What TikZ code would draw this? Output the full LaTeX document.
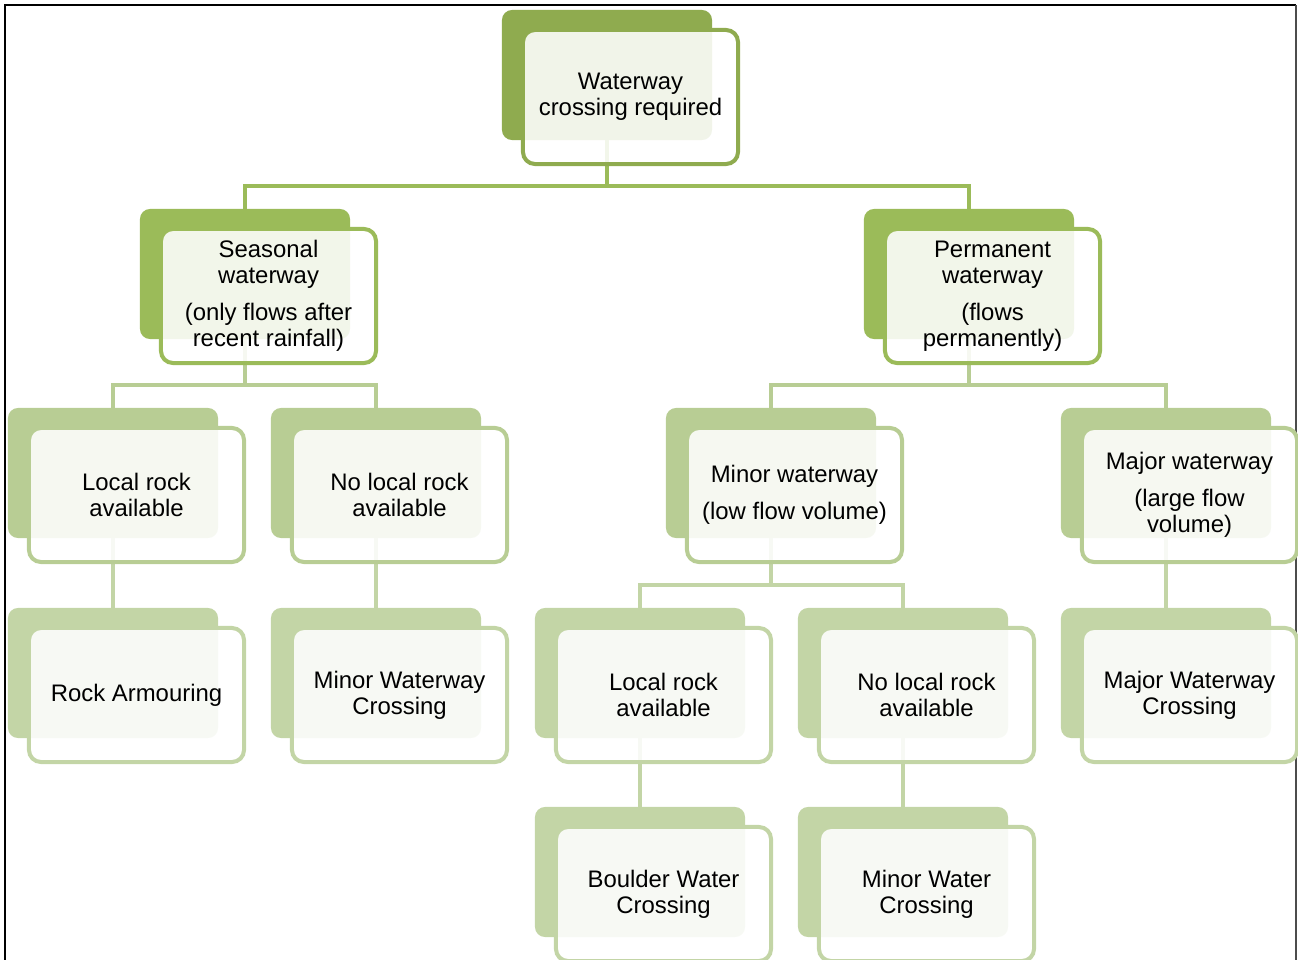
\documentclass[tikz,border=0pt]{standalone}
\usepackage{fontspec}
\setmainfont{Liberation Sans}
\definecolor{lvA}{HTML}{8FAB4F}
\definecolor{lvB}{HTML}{9BBB59}
\definecolor{lvC}{HTML}{B8CD94}
\definecolor{lvD}{HTML}{C3D5A6}
\begin{document}
\begin{tikzpicture}[x=0.025cm,y=-0.025cm,
	back/.style={rectangle,rounded corners=0.25cm,fill=#1,minimum width=5.25cm,minimum height=3.25cm,inner sep=0pt},
	front/.style={rectangle,rounded corners=0.3cm,draw=#1,line width=0.1cm,fill=white,fill opacity=0.88,text opacity=1,
		minimum width=5.375cm,minimum height=3.35cm,inner sep=0pt,xshift=0.5875cm,yshift=-0.55cm,
		align=center,font=\fontsize{17}{18.5}\selectfont},
	link/.style={draw=#1,line width=0.1cm}]
	\useasboundingbox (0,0) rectangle (1298,960);
	\clip (0,0) rectangle (1298,960);
	\draw[line width=0.05cm] (5,965)--(5,5)--(1296,5);
	\draw[line width=0.03cm,black!70] (1296,5)--(1296,965);
	% back boxes
	\node[back=lvA] (top) at (607,75) {};
	\node[back=lvB] (seas) at (245,274) {};
	\node[back=lvB] (perm) at (969,274) {};
	\node[back=lvC] (lrA) at (113,473) {};
	\node[back=lvC] (nlrA) at (376,473) {};
	\node[back=lvC] (minor) at (771,473) {};
	\node[back=lvC] (major) at (1166,473) {};
	\node[back=lvD] (armour) at (113,673) {};
	\node[back=lvD] (mwc) at (376,673) {};
	\node[back=lvD] (lrB) at (640,673) {};
	\node[back=lvD] (nlrB) at (903,673) {};
	\node[back=lvD] (mjc) at (1166,673) {};
	\node[back=lvD] (boulder) at (640,872) {};
	\node[back=lvD] (mwx) at (903,872) {};
	% connectors
	\draw[link=lvB] (top.south)--++(0,46) -| (seas.north);
	\draw[link=lvB] (top.south)--++(0,46) -| (perm.north);
	\draw[link=lvC] (seas.south)--++(0,46) -| (lrA.north);
	\draw[link=lvC] (seas.south)--++(0,46) -| (nlrA.north);
	\draw[link=lvC] (perm.south)--++(0,46) -| (minor.north);
	\draw[link=lvC] (perm.south)--++(0,46) -| (major.north);
	\draw[link=lvD] (lrA.south)--(armour.north);
	\draw[link=lvD] (nlrA.south)--(mwc.north);
	\draw[link=lvD] (minor.south)--++(0,47) -| (lrB.north);
	\draw[link=lvD] (minor.south)--++(0,47) -| (nlrB.north);
	\draw[link=lvD] (major.south)--(mjc.north);
	\draw[link=lvD] (lrB.south)--(boulder.north);
	\draw[link=lvD] (nlrB.south)--(mwx.north);
	% front boxes
	\node[front=lvA] (topT) at (607,75) {Waterway\\crossing required};
	\node[front=lvB] (seasT) at (245,274) {Seasonal\\waterway\\[8pt](only flows after\\recent rainfall)};
	\node[front=lvB] (permT) at (969,274) {Permanent\\waterway\\[8pt](flows\\permanently)};
	\node[front=lvC] (lrAT) at (113,473) {Local rock\\available};
	\node[front=lvC] (nlrAT) at (376,473) {No local rock\\available};
	\node[front=lvC] (minorT) at (771,473) {Minor waterway\\[8pt](low flow volume)};
	\node[front=lvC] (majorT) at (1166,473) {Major waterway\\[8pt](large flow\\volume)};
	\node[front=lvD] (armourT) at (113,673) {Rock Armouring};
	\node[front=lvD] (mwcT) at (376,673) {Minor Waterway\\Crossing};
	\node[front=lvD] (lrBT) at (640,673) {Local rock\\available};
	\node[front=lvD] (nlrBT) at (903,673) {No local rock\\available};
	\node[front=lvD] (mjcT) at (1166,673) {Major Waterway\\Crossing};
	\node[front=lvD] (boulderT) at (640,872) {Boulder Water\\Crossing};
	\node[front=lvD] (mwxT) at (903,872) {Minor Water\\Crossing};
\end{tikzpicture}
\end{document}
